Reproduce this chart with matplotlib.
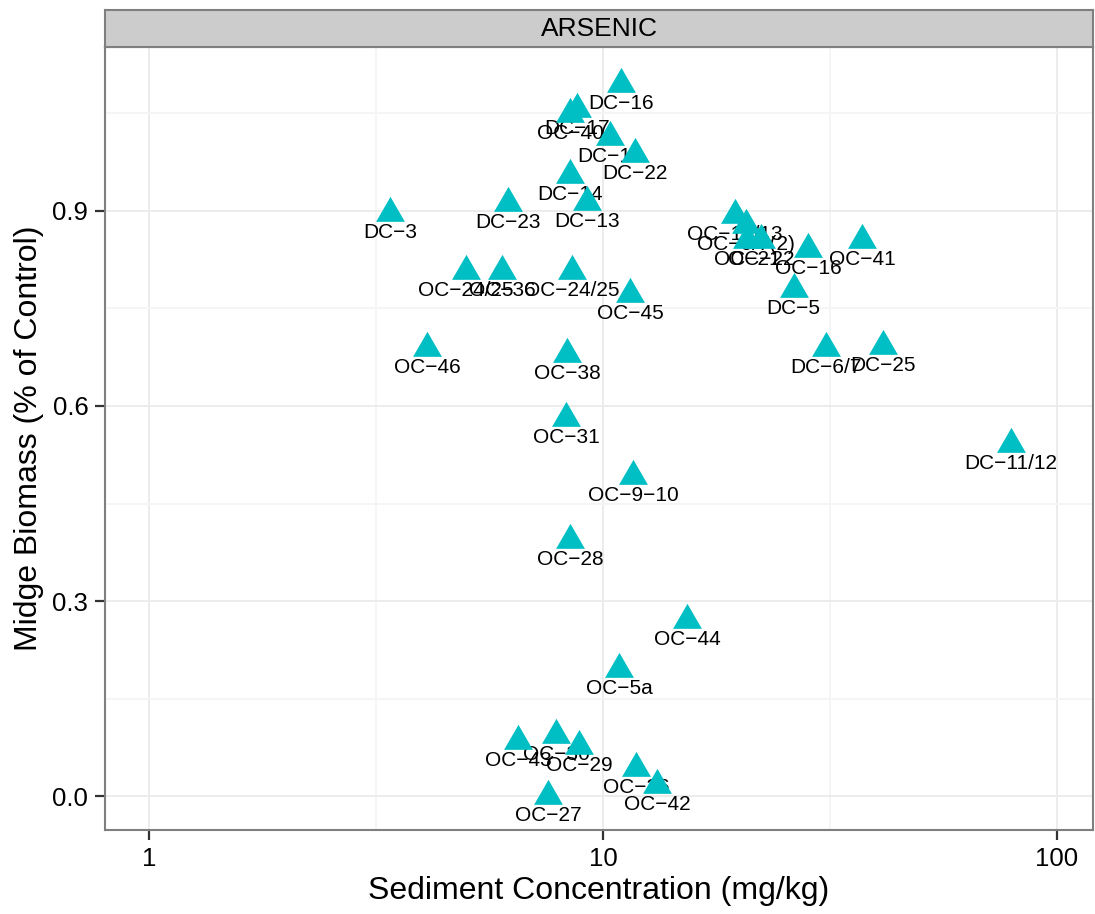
import matplotlib
matplotlib.use("Agg")
import matplotlib.pyplot as plt
from matplotlib.ticker import FixedLocator, NullFormatter

plt.rcParams['font.family'] = ['Liberation Sans', 'DejaVu Sans']

# site labels, sediment arsenic (mg/kg) and midge biomass (fraction of control)
sites = ["DC-16", "DC-17", "OC-40", "DC-19", "DC-22", "DC-14", "DC-13", "DC-23",
         "DC-3", "OC-12/13", "OC-6/7(2)", "OC-21", "OC-22", "OC-16", "OC-41", "DC-5",
         "OC-24/25", "OC-36", "OC-24/25", "OC-45", "OC-46", "OC-38", "DC-6/7", "DC-25",
         "DC-11/12", "OC-31", "OC-9-10", "OC-28", "OC-44", "OC-5a", "OC-43", "OC-30",
         "OC-29", "OC-26", "OC-42", "OC-27"]
conc = [10.96, 8.76, 8.46, 10.36, 11.77, 8.46, 9.22, 6.18,
        3.40, 19.53, 20.65, 20.76, 22.28, 28.3, 37.2, 26.3,
        4.99, 5.99, 8.55, 11.47, 4.10, 8.33, 31.0, 41.4,
        79.2, 8.29, 11.64, 8.46, 15.31, 10.84, 6.50, 7.88,
        8.85, 11.82, 13.15, 7.57]
biomass = [1.095, 1.057, 1.049, 1.014, 0.988, 0.955, 0.914, 0.912,
           0.897, 0.894, 0.878, 0.855, 0.855, 0.842, 0.855, 0.780,
           0.808, 0.808, 0.808, 0.772, 0.689, 0.680, 0.689, 0.692,
           0.542, 0.582, 0.492, 0.394, 0.271, 0.195, 0.085, 0.094,
           0.077, 0.043, 0.017, 0.0]

x_ticks = [1, 10, 100]
y_ticks = [0.0, 0.3, 0.6, 0.9]

W, H = 1095, 914
fig = plt.figure(figsize=(W / 100, H / 100), dpi=100)

# panel position in pixels (left, top, right, bottom)
pl, pt, pr, pb = 105, 47, 1093, 830
ax = fig.add_axes([pl / W, 1 - pb / H, (pr - pl) / W, (pb - pt) / H])
ax.set_xscale('log')
ax.set_xlim(0.80, 120.0)
ax.set_ylim(-0.0523, 1.1523)

ax.xaxis.set_major_locator(FixedLocator(x_ticks))
ax.set_xticklabels([str(t) for t in x_ticks])
ax.xaxis.set_minor_locator(FixedLocator([10 ** 0.5, 10 ** 1.5]))
ax.xaxis.set_minor_formatter(NullFormatter())
ax.set_yticks(y_ticks)
ax.set_yticklabels(["%.1f" % t for t in y_ticks])
ax.yaxis.set_minor_locator(FixedLocator([0.15, 0.45, 0.75, 1.05]))

ax.grid(which='major', color='#ebebeb', lw=1.3)
ax.grid(which='minor', color='#f5f5f5', lw=1.3)
ax.set_axisbelow(True)
ax.tick_params(which='major', length=7, width=1.6, color='#333333',
               labelsize=18.5, labelcolor='black', pad=5)
ax.tick_params(which='minor', length=0)
for s in ax.spines.values():
    s.set_color('#7f7f7f')
    s.set_linewidth(1.5)

# equilateral triangle centred on its centroid
tri = [(-1, -0.5774), (1, -0.5774), (0, 1.1547)]

# R draws the dash in the labels as a minus sign
for name, xv, yv in zip(sites, conc, biomass):
    ax.annotate(name.replace('-', '\u2212'), (xv, yv), xytext=(0, -18),
                textcoords='offset points', ha='center', va='baseline',
                fontsize=15, color='black', zorder=2)
ax.plot(conc, biomass, ls='none', marker=tri, ms=24, mew=0, color='#00BFC4', zorder=3)

ax.set_xlabel('Sediment Concentration (mg/kg)', fontsize=23, labelpad=4)
ax.set_ylabel('Midge Biomass (% of Control)', fontsize=23, labelpad=6)

# facet strip
st_top, st_bot = 10, 47
strip = fig.add_axes([pl / W, 1 - st_bot / H, (pr - pl) / W, (st_bot - st_top) / H])
strip.set_facecolor('#cccccc')
strip.set_xticks([])
strip.set_yticks([])
for s in strip.spines.values():
    s.set_color('#7f7f7f')
    s.set_linewidth(1.5)
strip.text(0.5, 0.5, 'ARSENIC', ha='center', va='center', fontsize=19,
           transform=strip.transAxes)

fig.savefig('out.png', dpi=100)
